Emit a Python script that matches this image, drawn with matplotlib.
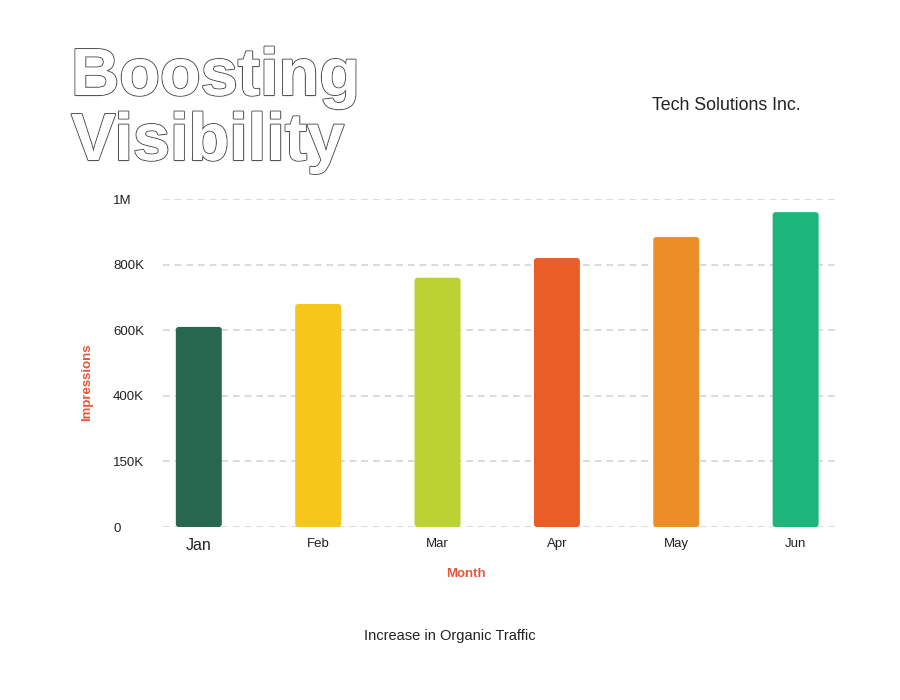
import numpy as np
import matplotlib.pyplot as plt
import matplotlib.patheffects as pe
from matplotlib.patches import FancyBboxPatch

plt.rcParams['font.family'] = ['Liberation Sans', 'DejaVu Sans']

# data
months = ['Jan', 'Feb', 'Mar', 'Apr', 'May', 'Jun']
impressions = [610000, 680000, 760000, 820000, 884000, 960000]
colors = ['#27674E', '#F7C61A', '#BAD332', '#EA5D26', '#EC8E26', '#1CB57C']
ytick_vals = [0, 200000, 400000, 600000, 800000, 1000000]
ytick_labels = ['0', '150K', '400K', '600K', '800K', '1M']

accent = '#E5573A'

fig = plt.figure(figsize=(9, 7), dpi=100)
ax = fig.add_axes([163/900, 1-527/700, 672/900, 328/700])

x = np.arange(len(months))
bars = ax.bar(x, impressions, width=0.385, color=colors, zorder=3)

ax.set_xlim(-0.3, 5.33)
ax.set_ylim(0, 1000000)

# swap plain bars for rounded ones
aspect = (1000000/328) / (1/119.4)
for b in bars:
    bb = b.get_bbox()
    rp = FancyBboxPatch((bb.x0, bb.y0), bb.width, bb.height,
                        boxstyle='round,pad=0,rounding_size=0.025',
                        mutation_aspect=aspect,
                        facecolor=b.get_facecolor(), edgecolor='none', zorder=3)
    ax.add_patch(rp)
    b.set_visible(False)

ax.set_yticks(ytick_vals)
ax.set_yticklabels(ytick_labels, fontsize=9.5, color='#222222')
for lab in ax.get_yticklabels():
    lab.set_horizontalalignment('left')
ax.tick_params(axis='y', length=0, pad=36)

ax.set_xticks(x)
ax.set_xticklabels(months, fontsize=9.5, color='#222222')
ax.get_xticklabels()[0].set_fontsize(11.5)
ax.tick_params(axis='x', length=0, pad=8)

ax.grid(axis='y', linestyle=(0, (4, 3)), color='#d4d4d4', linewidth=1.2, zorder=0)
for s in ax.spines.values():
    s.set_visible(False)

ax.set_ylabel('Impressions', color=accent, fontsize=9.5, fontweight='bold')
ax.yaxis.set_label_coords(-0.104, 0.44)
fig.text(466/900, 1-574/700, 'Month', color=accent, fontsize=9.5,
         fontweight='bold', ha='center', va='center')

# outlined title
outline = [pe.withStroke(linewidth=1.6, foreground='#555555'), pe.Normal()]
fig.text(0.079, 1-95/700, 'Boosting', fontsize=48, fontweight='bold',
         color='white', va='baseline', ha='left', path_effects=outline)
fig.text(0.079, 1-160/700, 'Visibility', fontsize=48, fontweight='bold',
         color='white', va='baseline', ha='left', path_effects=outline)

fig.text(726/900, 1-105/700, 'Tech Solutions Inc.', fontsize=12.8,
         color='#222222', ha='center', va='center')
fig.text(450/900, 1-636/700, 'Increase in Organic Traffic', fontsize=10.5,
         color='#222222', ha='center', va='center')

fig.savefig('out.png', dpi=100, facecolor='white')
